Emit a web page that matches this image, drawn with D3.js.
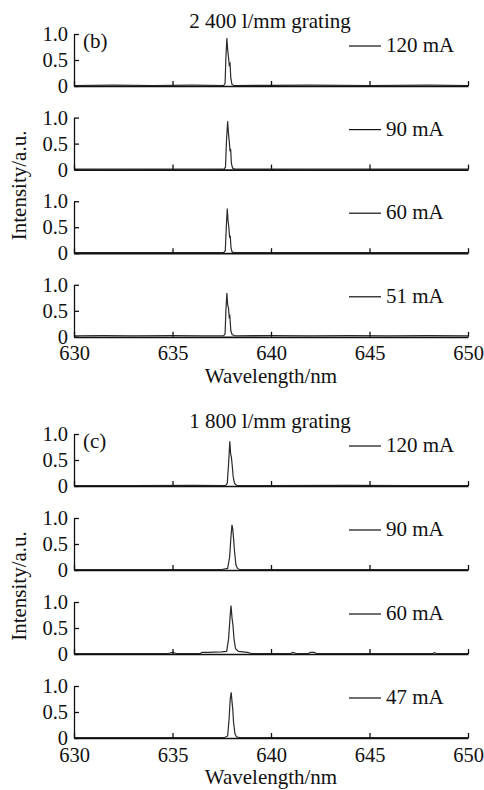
<!DOCTYPE html>
<html>
<head>
<meta charset="utf-8">
<script src="https://cdn.jsdelivr.net/npm/d3@7"></script>
<style>
  body { margin: 0; background: #fff; }
</style>
</head>
<body>
<svg id="chart" width="484" height="790"></svg>
<script>
// Legend labels and tick values
const currentsB = ["120 mA", "90 mA", "60 mA", "51 mA"];
const currentsC = ["120 mA", "90 mA", "60 mA", "47 mA"];
const xTicks = [630, 635, 640, 645, 650];
const yTicks = [0, 0.5, 1.0];

// Spectra: [wavelength nm, normalised intensity]
// (b) 2400 l/mm grating
const specB120 = [[630, 0.01], [632, 0.015], [634, 0.01], [636, 0.015], [637.6, 0.01], [637.67, 0.05],
  [637.71, 0.55], [637.76, 0.92], [637.8, 0.7], [637.84, 0.56], [637.88, 0.4], [637.92, 0.43],
  [637.96, 0.15], [638.02, 0.03], [638.12, 0.01], [640, 0.012], [642, 0.015], [645, 0.01], [648, 0.015], [650, 0.01]];
const specB90 = [[630, 0.01], [632, 0.012], [634, 0.01], [636, 0.012], [637.62, 0.01], [637.69, 0.05],
  [637.74, 0.55], [637.8, 0.93], [637.84, 0.7], [637.88, 0.55], [637.92, 0.35], [637.95, 0.4],
  [637.99, 0.12], [638.05, 0.03], [638.15, 0.01], [640, 0.01], [643, 0.012], [646, 0.01], [650, 0.01]];
const specB60 = [[630, 0.01], [633, 0.01], [636, 0.012], [637.6, 0.01], [637.68, 0.05],
  [637.73, 0.5], [637.78, 0.86], [637.82, 0.62], [637.86, 0.5], [637.9, 0.3], [637.93, 0.34],
  [637.97, 0.1], [638.03, 0.02], [638.15, 0.01], [641, 0.01], [645, 0.012], [650, 0.01]];
const specB51 = [[630, 0.02], [631.5, 0.025], [633, 0.02], [635, 0.025], [636.5, 0.02], [637.6, 0.02], [637.67, 0.06],
  [637.71, 0.5], [637.76, 0.84], [637.8, 0.62], [637.84, 0.55], [637.88, 0.38], [637.91, 0.4],
  [637.96, 0.12], [638.03, 0.04], [638.2, 0.02], [640, 0.025], [642, 0.02], [644, 0.025], [646, 0.02], [648, 0.025], [650, 0.02]];

// (c) 1800 l/mm grating
const specC120 = [[630, 0.01], [633, 0.01], [636, 0.012], [637.7, 0.01], [637.78, 0.05],
  [637.85, 0.45], [637.91, 0.86], [637.95, 0.62], [637.99, 0.55], [638.03, 0.4], [638.08, 0.18],
  [638.15, 0.05], [638.26, 0.01], [640, 0.01], [644, 0.012], [647, 0.01], [650, 0.01]];
const specC90 = [[630, 0.01], [633, 0.01], [636, 0.01], [637.5, 0.01], [637.8, 0.03], [637.9, 0.25],
  [637.96, 0.6], [638.02, 0.87], [638.06, 0.78], [638.1, 0.6], [638.15, 0.35], [638.22, 0.1],
  [638.3, 0.03], [638.4, 0.01], [640, 0.01], [645, 0.01], [650, 0.01]];
const specC60 = [[630, 0.01], [634.8, 0.01], [635, 0.03], [635.2, 0.01], [636.4, 0.01], [636.5, 0.03],
  [636.8, 0.03], [637.1, 0.035], [637.5, 0.04], [637.75, 0.05], [637.85, 0.3], [637.92, 0.7],
  [637.97, 0.93], [638.02, 0.7], [638.07, 0.55], [638.12, 0.3], [638.2, 0.1], [638.35, 0.05],
  [638.8, 0.03], [639.0, 0.01], [641.0, 0.01], [641.1, 0.03], [641.3, 0.01], [641.9, 0.01], [642.0, 0.03],
  [642.2, 0.03], [642.3, 0.01], [648.2, 0.01], [648.3, 0.025], [648.4, 0.01], [650, 0.01]];
const specC47 = [[630, 0.01], [633, 0.01], [636, 0.01], [637.65, 0.01], [637.8, 0.04], [637.87, 0.35],
  [637.93, 0.75], [637.98, 0.88], [638.02, 0.7], [638.06, 0.55], [638.1, 0.3], [638.17, 0.08],
  [638.25, 0.02], [638.4, 0.01], [640, 0.01], [645, 0.01], [650, 0.01]];

const groups = [
  { title: "2 400 l/mm grating", tag: "(b)", labels: currentsB,
    series: [specB120, specB90, specB60, specB51], top: 34, step: 83.6, h: 52, titleGap: 46 },
  { title: "1 800 l/mm grating", tag: "(c)", labels: currentsC,
    series: [specC120, specC90, specC60, specC47], top: 434, step: 84, h: 52, titleGap: 46 }
];

const serif = "'Liberation Serif', 'DejaVu Serif', serif";
const svg = d3.select("#chart").attr("font-family", serif);
const x = d3.scaleLinear().domain([630, 650]).range([74, 468]);
const line = d3.line();

// small helper so every label gets the same serif face
function label(sel, size) {
  return sel.style("font-family", serif).style("font-size", (size || 21) + "px").attr("fill", "#111");
}

groups.forEach(function(g) {
  g.series.forEach(function(data, i) {
    const top = g.top + i * g.step;
    const y = d3.scaleLinear().domain([0, 1]).range([top + g.h, top]);
    const panel = svg.append("g");

    // spectrum
    panel.append("path")
      .attr("d", line.x(d => x(d[0])).y(d => y(d[1]))(data))
      .attr("fill", "none")
      .attr("stroke", "#2a2a2a")
      .attr("stroke-width", 1.2);

    // bottom axis: inward ticks, labels only on the last panel
    const last = i === g.series.length - 1;
    const xAxis = panel.append("g")
      .attr("transform", `translate(0,${top + g.h})`)
      .call(d3.axisBottom(x).tickValues(xTicks).tickSize(-5).tickSizeOuter(0)
        .tickFormat(last ? d3.format("d") : ""));
    xAxis.attr("font-family", null);
    xAxis.select(".domain").attr("stroke", "#111").attr("stroke-width", 1.7);
    xAxis.selectAll(".tick line").attr("stroke", "#111").attr("stroke-width", 1.3);
    label(xAxis.selectAll(".tick text"), 20.5).attr("dy", "1em").attr("y", 3);

    // left axis
    const yAxis = panel.append("g")
      .attr("transform", "translate(74,0)")
      .call(d3.axisLeft(y).tickValues(yTicks).tickSize(-5).tickSizeOuter(0)
        .tickFormat(d => d === 0 ? "0" : d3.format(".1f")(d)));
    yAxis.attr("font-family", null);
    yAxis.select(".domain").attr("stroke", "#111").attr("stroke-width", 1.3);
    yAxis.selectAll(".tick line").attr("stroke", "#111").attr("stroke-width", 1.3);
    label(yAxis.selectAll(".tick text"), 20.5).attr("x", -6);

    // legend
    panel.append("line")
      .attr("x1", 349).attr("x2", 381)
      .attr("y1", top + 12).attr("y2", top + 12)
      .attr("stroke", "#111").attr("stroke-width", 1.2);
    label(panel.append("text"))
      .attr("x", 386).attr("y", top + 18)
      .text(g.labels[i]);
  });

  // group title, panel tag and axis titles
  label(svg.append("text"))
    .attr("x", 270).attr("y", g.top - 6)
    .attr("text-anchor", "middle")
    .text(g.title);
  label(svg.append("text"))
    .attr("x", 83).attr("y", g.top + 14)
    .text(g.tag);
  const bottom = g.top + 3 * g.step + g.h;
  label(svg.append("text"))
    .attr("x", 271).attr("y", bottom + g.titleGap)
    .attr("text-anchor", "middle")
    .text("Wavelength/nm");
  label(svg.append("text"))
    .attr("transform", `translate(26,${g.top + (3 * g.step + g.h) / 2}) rotate(-90)`)
    .attr("text-anchor", "middle")
    .text("Intensity/a.u.");
});
</script>
</body>
</html>
